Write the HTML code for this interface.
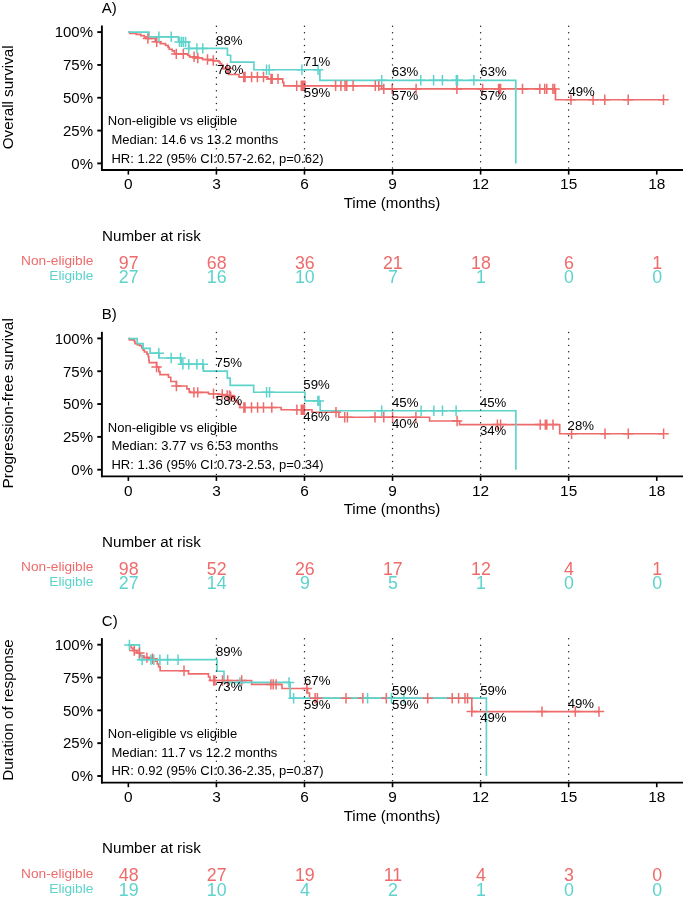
<!DOCTYPE html>
<html><head><meta charset="utf-8"><title>KM curves</title>
<style>html,body{margin:0;padding:0;background:#fff;}svg{display:block;filter:blur(0.3px);}</style>
</head><body>
<svg width="685" height="898" viewBox="0 0 685 898" font-family='"Liberation Sans", sans-serif' fill="#000">
<rect width="685" height="898" fill="#fff"/>
<g transform="translate(0,0)">
<text x="101.8" y="12.6" font-size="15">A)</text>
<text transform="translate(13.3,97.3) rotate(-90)" text-anchor="middle" font-size="15.2">Overall survival</text>
<line x1="101.9" y1="25.5" x2="101.9" y2="170.9" stroke="#000" stroke-width="1.9"/>
<line x1="101" y1="170" x2="683" y2="170" stroke="#000" stroke-width="1.8"/>
<line x1="97.3" y1="32.1" x2="102" y2="32.1" stroke="#000" stroke-width="1.9"/>
<text x="93" y="37.4" text-anchor="end" font-size="15">100%</text>
<line x1="97.3" y1="64.93" x2="102" y2="64.93" stroke="#000" stroke-width="1.9"/>
<text x="93" y="70.23" text-anchor="end" font-size="15">75%</text>
<line x1="97.3" y1="97.75" x2="102" y2="97.75" stroke="#000" stroke-width="1.9"/>
<text x="93" y="103.05" text-anchor="end" font-size="15">50%</text>
<line x1="97.3" y1="130.58" x2="102" y2="130.58" stroke="#000" stroke-width="1.9"/>
<text x="93" y="135.88" text-anchor="end" font-size="15">25%</text>
<line x1="97.3" y1="163.4" x2="102" y2="163.4" stroke="#000" stroke-width="1.9"/>
<text x="93" y="168.7" text-anchor="end" font-size="15">0%</text>
<line x1="128.35" y1="170" x2="128.35" y2="174.6" stroke="#000" stroke-width="1.6"/>
<text x="128.35" y="189.4" text-anchor="middle" font-size="15.4">0</text>
<line x1="216.41" y1="170" x2="216.41" y2="174.6" stroke="#000" stroke-width="1.6"/>
<text x="216.41" y="189.4" text-anchor="middle" font-size="15.4">3</text>
<line x1="304.48" y1="170" x2="304.48" y2="174.6" stroke="#000" stroke-width="1.6"/>
<text x="304.48" y="189.4" text-anchor="middle" font-size="15.4">6</text>
<line x1="392.54" y1="170" x2="392.54" y2="174.6" stroke="#000" stroke-width="1.6"/>
<text x="392.54" y="189.4" text-anchor="middle" font-size="15.4">9</text>
<line x1="480.61" y1="170" x2="480.61" y2="174.6" stroke="#000" stroke-width="1.6"/>
<text x="480.61" y="189.4" text-anchor="middle" font-size="15.4">12</text>
<line x1="568.67" y1="170" x2="568.67" y2="174.6" stroke="#000" stroke-width="1.6"/>
<text x="568.67" y="189.4" text-anchor="middle" font-size="15.4">15</text>
<line x1="656.74" y1="170" x2="656.74" y2="174.6" stroke="#000" stroke-width="1.6"/>
<text x="656.74" y="189.4" text-anchor="middle" font-size="15.4">18</text>
<text x="392" y="208" text-anchor="middle" font-size="15.1">Time (months)</text>
<text x="107.8" y="125.3" font-size="13" xml:space="preserve">Non-eligible vs eligible</text>
<text x="107.8" y="144.05" font-size="13" xml:space="preserve"> Median: 14.6 vs 13.2 months</text>
<text x="107.8" y="162.8" font-size="13" xml:space="preserve"> HR: 1.22 (95% CI:0.57-2.62, p=0.62)</text>
<path d="M128.35,32.1 129.8,32.1 129.8,33.3 136.2,33.3 136.2,34.4 140.8,34.4 140.8,35.6 144.3,35.6 144.3,36.8 146,36.8 146,38.5 155.3,38.5 155.3,41.7 160.2,41.7 160.2,43.6 165.5,43.6 165.5,45.4 168.1,45.4 168.1,47.3 169.3,47.3 169.3,49.2 172.2,49.2 172.2,50.9 174.5,50.9 174.5,53.9 187.9,53.9 187.9,55.3 189.7,55.3 189.7,56.8 193.2,56.8 193.2,58 202.5,58 202.5,59.5 213.3,59.5 213.3,60.9 218.9,60.9 218.9,62 220,62 220,63.5 221.5,63.5 221.5,65 223,65 223,68.6 228.5,68.6 228.5,74.5 239,74.5 239,77 267.5,77 267.5,78.9 282.7,78.9 282.7,82.4 283.8,82.4 283.8,85.8 381.7,85.8 381.7,88.9 555.5,88.9 555.5,99.7 663.5,99.7" fill="none" stroke="#EE6B6B" stroke-width="1.65" stroke-linejoin="miter"/>
<path d="M128.35,32.1 149,32.1 149,36.8 178.4,36.8 178.4,41.9 188.7,41.9 188.7,48.4 227.4,48.4 227.4,55.2 230.6,55.2 230.6,62.1 253.9,62.1 253.9,69.7 319.9,69.7 319.9,80.3 515.8,80.3 515.8,163.4" fill="none" stroke="#5DD3CB" stroke-width="1.65" stroke-linejoin="miter"/>
<path d="M147.9,33.3v10.4M142.7,38.5h10.4 M156.7,36.5v10.4M151.5,41.7h10.4 M176.3,48.7v10.4M171.1,53.9h10.4 M183.3,48.7v10.4M178.1,53.9h10.4 M194.1,51.6v10.4M188.9,56.8h10.4 M197.8,52.8v10.4M192.6,58h10.4 M207.5,54.3v10.4M202.3,59.5h10.4 M213.3,55.3v10.4M208.1,60.5h10.4 M227.3,63.4v10.4M222.1,68.6h10.4 M243.8,71.8v10.4M238.6,77h10.4 M245,71.8v10.4M239.8,77h10.4 M251.6,71.8v10.4M246.4,77h10.4 M257.4,71.8v10.4M252.2,77h10.4 M263.5,71.8v10.4M258.3,77h10.4 M271,73.7v10.4M265.8,78.9h10.4 M272.2,73.7v10.4M267,78.9h10.4 M278,73.7v10.4M272.8,78.9h10.4 M296.7,80.6v10.4M291.5,85.8h10.4 M301.3,80.6v10.4M296.1,85.8h10.4 M302.2,80.6v10.4M297,85.8h10.4 M303.1,80.6v10.4M297.9,85.8h10.4 M304,80.6v10.4M298.8,85.8h10.4 M304.9,80.6v10.4M299.7,85.8h10.4 M335.6,80.6v10.4M330.4,85.8h10.4 M340.9,80.6v10.4M335.7,85.8h10.4 M345,80.6v10.4M339.8,85.8h10.4 M346.7,80.6v10.4M341.5,85.8h10.4 M353.1,80.6v10.4M347.9,85.8h10.4 M375.3,80.6v10.4M370.1,85.8h10.4 M378.8,80.6v10.4M373.6,85.8h10.4 M383.8,83.7v10.4M378.6,88.9h10.4 M392.2,83.7v10.4M387,88.9h10.4 M416.1,83.7v10.4M410.9,88.9h10.4 M456.9,83.7v10.4M451.7,88.9h10.4 M482.6,83.7v10.4M477.4,88.9h10.4 M498.6,83.7v10.4M493.4,88.9h10.4 M499.6,83.7v10.4M494.4,88.9h10.4 M500.6,83.7v10.4M495.4,88.9h10.4 M522.5,83.7v10.4M517.3,88.9h10.4 M539.8,83.7v10.4M534.6,88.9h10.4 M544.7,83.7v10.4M539.5,88.9h10.4 M546.8,83.7v10.4M541.6,88.9h10.4 M552.9,83.7v10.4M547.7,88.9h10.4 M554.6,83.7v10.4M549.4,88.9h10.4 M571,94.5v10.4M565.8,99.7h10.4 M593.1,94.5v10.4M587.9,99.7h10.4 M604.8,94.5v10.4M599.6,99.7h10.4 M628.2,94.5v10.4M623,99.7h10.4 M663.5,94.5v10.4M658.3,99.7h10.4" fill="none" stroke="#EE6B6B" stroke-width="1.5"/>
<path d="M158.9,31.6v10.4M153.7,36.8h10.4 M171.2,31.6v10.4M166,36.8h10.4 M179.5,36.7v10.4M174.3,41.9h10.4 M181.5,36.7v10.4M176.3,41.9h10.4 M183.4,36.7v10.4M178.2,41.9h10.4 M185.6,36.7v10.4M180.4,41.9h10.4 M188.7,43.2v10.4M183.5,48.4h10.4 M196.9,43.2v10.4M191.7,48.4h10.4 M202.8,43.2v10.4M197.6,48.4h10.4 M266.5,64.5v10.4M261.3,69.7h10.4 M269.2,64.5v10.4M264,69.7h10.4 M301.9,64.5v10.4M296.7,69.7h10.4 M318.1,64.5v10.4M312.9,69.7h10.4 M381.7,75.1v10.4M376.5,80.3h10.4 M420.8,75.1v10.4M415.6,80.3h10.4 M433.6,75.1v10.4M428.4,80.3h10.4 M442.4,75.1v10.4M437.2,80.3h10.4 M456.3,75.1v10.4M451.1,80.3h10.4 M457.5,75.1v10.4M452.3,80.3h10.4 M473.9,75.1v10.4M468.7,80.3h10.4" fill="none" stroke="#5DD3CB" stroke-width="1.5"/>
<line x1="216.41" y1="26.2" x2="216.41" y2="169" stroke="#222" stroke-width="1.45" stroke-linecap="round" stroke-dasharray="0 6.45" />
<line x1="304.48" y1="26.2" x2="304.48" y2="169" stroke="#222" stroke-width="1.45" stroke-linecap="round" stroke-dasharray="0 6.45" />
<line x1="392.54" y1="26.2" x2="392.54" y2="169" stroke="#222" stroke-width="1.45" stroke-linecap="round" stroke-dasharray="0 6.45" />
<line x1="480.61" y1="26.2" x2="480.61" y2="169" stroke="#222" stroke-width="1.45" stroke-linecap="round" stroke-dasharray="0 6.45" />
<line x1="568.67" y1="26.2" x2="568.67" y2="169" stroke="#222" stroke-width="1.45" stroke-linecap="round" stroke-dasharray="0 6.45" />
<text x="216.1" y="44.6" font-size="13.2">88%</text>
<text x="217" y="74.1" font-size="13.2">78%</text>
<text x="303.8" y="66" font-size="13.2">71%</text>
<text x="303.8" y="96.6" font-size="13.2">59%</text>
<text x="391.8" y="76.2" font-size="13.2">63%</text>
<text x="391.8" y="100" font-size="13.2">57%</text>
<text x="480.3" y="76.2" font-size="13.2">63%</text>
<text x="480.3" y="100" font-size="13.2">57%</text>
<text x="568.4" y="95.8" font-size="13.2">49%</text>
<text x="102" y="240.8" font-size="15.2">Number at risk</text>
<text x="93.4" y="265.1" text-anchor="end" font-size="13.7" fill="#EE6B6B">Non-eligible</text>
<text x="93.4" y="280" text-anchor="end" font-size="13.7" fill="#5DD3CB">Eligible</text>
<text x="128.7" y="268.9" text-anchor="middle" font-size="17.8" fill="#EE6B6B">97</text>
<text x="128.7" y="283.1" text-anchor="middle" font-size="17.8" fill="#5DD3CB">27</text>
<text x="216.76" y="268.9" text-anchor="middle" font-size="17.8" fill="#EE6B6B">68</text>
<text x="216.76" y="283.1" text-anchor="middle" font-size="17.8" fill="#5DD3CB">16</text>
<text x="304.83" y="268.9" text-anchor="middle" font-size="17.8" fill="#EE6B6B">36</text>
<text x="304.83" y="283.1" text-anchor="middle" font-size="17.8" fill="#5DD3CB">10</text>
<text x="392.89" y="268.9" text-anchor="middle" font-size="17.8" fill="#EE6B6B">21</text>
<text x="392.89" y="283.1" text-anchor="middle" font-size="17.8" fill="#5DD3CB">7</text>
<text x="480.96" y="268.9" text-anchor="middle" font-size="17.8" fill="#EE6B6B">18</text>
<text x="480.96" y="283.1" text-anchor="middle" font-size="17.8" fill="#5DD3CB">1</text>
<text x="569.02" y="268.9" text-anchor="middle" font-size="17.8" fill="#EE6B6B">6</text>
<text x="569.02" y="283.1" text-anchor="middle" font-size="17.8" fill="#5DD3CB">0</text>
<text x="657.09" y="268.9" text-anchor="middle" font-size="17.8" fill="#EE6B6B">1</text>
<text x="657.09" y="283.1" text-anchor="middle" font-size="17.8" fill="#5DD3CB">0</text>
</g>
<g transform="translate(0,306.3)">
<text x="101.8" y="12.6" font-size="15">B)</text>
<text transform="translate(13.3,97) rotate(-90)" text-anchor="middle" font-size="15.4">Progression-free survival</text>
<line x1="101.9" y1="25.5" x2="101.9" y2="170.9" stroke="#000" stroke-width="1.9"/>
<line x1="101" y1="170" x2="683" y2="170" stroke="#000" stroke-width="1.8"/>
<line x1="97.3" y1="32.1" x2="102" y2="32.1" stroke="#000" stroke-width="1.9"/>
<text x="93" y="37.4" text-anchor="end" font-size="15">100%</text>
<line x1="97.3" y1="64.93" x2="102" y2="64.93" stroke="#000" stroke-width="1.9"/>
<text x="93" y="70.23" text-anchor="end" font-size="15">75%</text>
<line x1="97.3" y1="97.75" x2="102" y2="97.75" stroke="#000" stroke-width="1.9"/>
<text x="93" y="103.05" text-anchor="end" font-size="15">50%</text>
<line x1="97.3" y1="130.58" x2="102" y2="130.58" stroke="#000" stroke-width="1.9"/>
<text x="93" y="135.88" text-anchor="end" font-size="15">25%</text>
<line x1="97.3" y1="163.4" x2="102" y2="163.4" stroke="#000" stroke-width="1.9"/>
<text x="93" y="168.7" text-anchor="end" font-size="15">0%</text>
<line x1="128.35" y1="170" x2="128.35" y2="174.6" stroke="#000" stroke-width="1.6"/>
<text x="128.35" y="189.4" text-anchor="middle" font-size="15.4">0</text>
<line x1="216.41" y1="170" x2="216.41" y2="174.6" stroke="#000" stroke-width="1.6"/>
<text x="216.41" y="189.4" text-anchor="middle" font-size="15.4">3</text>
<line x1="304.48" y1="170" x2="304.48" y2="174.6" stroke="#000" stroke-width="1.6"/>
<text x="304.48" y="189.4" text-anchor="middle" font-size="15.4">6</text>
<line x1="392.54" y1="170" x2="392.54" y2="174.6" stroke="#000" stroke-width="1.6"/>
<text x="392.54" y="189.4" text-anchor="middle" font-size="15.4">9</text>
<line x1="480.61" y1="170" x2="480.61" y2="174.6" stroke="#000" stroke-width="1.6"/>
<text x="480.61" y="189.4" text-anchor="middle" font-size="15.4">12</text>
<line x1="568.67" y1="170" x2="568.67" y2="174.6" stroke="#000" stroke-width="1.6"/>
<text x="568.67" y="189.4" text-anchor="middle" font-size="15.4">15</text>
<line x1="656.74" y1="170" x2="656.74" y2="174.6" stroke="#000" stroke-width="1.6"/>
<text x="656.74" y="189.4" text-anchor="middle" font-size="15.4">18</text>
<text x="392" y="208" text-anchor="middle" font-size="15.1">Time (months)</text>
<text x="107.8" y="125.3" font-size="13" xml:space="preserve">Non-eligible vs eligible</text>
<text x="107.8" y="144.05" font-size="13" xml:space="preserve"> Median: 3.77 vs 6.53 months</text>
<text x="107.8" y="162.8" font-size="13" xml:space="preserve"> HR: 1.36 (95% CI:0.73-2.53, p=0.34)</text>
<path d="M128.35,32.3 129.5,32.3 129.5,33.6 134.3,33.6 134.3,35 135,35 135,37.3 137.4,37.3 137.4,38.6 140,38.6 140,39.5 141.8,39.5 141.8,41.7 143.1,41.7 143.1,43.9 144.4,43.9 144.4,45.7 147,45.7 147,47.8 148.3,47.8 148.3,50.5 148.8,50.5 148.8,54 149.2,54 149.2,56.3 156.6,56.3 156.6,60.7 158.8,60.7 158.8,65.3 160,65.3 160,68.3 168.5,68.3 168.5,71 170.8,71 170.8,75.2 176.4,75.2 176.4,79.7 186.9,79.7 186.9,82.6 189.2,82.6 189.2,85.3 190.5,85.3 190.5,86.1 208.5,86.1 208.5,87.4 219,87.4 219,88.2 222,88.2 222,89.2 230.7,89.2 230.7,90.3 233,90.3 233,92.2 235,92.2 235,94.2 237,94.2 237,96.2 238.5,96.2 238.5,98.2 240,98.2 240,101.2 281.1,101.2 281.1,103.5 312,103.5 312,105.9 338.9,105.9 338.9,111 429.6,111 429.6,114.7 459.6,114.7 459.6,118.3 559.7,118.3 559.7,127.4 663.6,127.4" fill="none" stroke="#EE6B6B" stroke-width="1.65" stroke-linejoin="miter"/>
<path d="M128.35,32.3 137.2,32.3 137.2,37.3 143.1,37.3 143.1,42.1 150.1,42.1 150.1,46.9 159.1,46.9 159.1,51.7 181.3,51.7 181.3,57.9 203.4,57.9 203.4,64.9 227.3,64.9 227.3,71.9 230.2,71.9 230.2,79.1 253.7,79.1 253.7,86 305,86 305,94.6 320.2,94.6 320.2,104.5 515.9,104.5 515.9,163.4" fill="none" stroke="#5DD3CB" stroke-width="1.65" stroke-linejoin="miter"/>
<path d="M156.6,55.5v10.4M151.4,60.7h10.4 M176.4,74.5v10.4M171.2,79.7h10.4 M193.9,80.9v10.4M188.7,86.1h10.4 M197.7,80.9v10.4M192.5,86.1h10.4 M213.5,82.2v10.4M208.3,87.4h10.4 M222.2,83v10.4M217,88.2h10.4 M227.2,84v10.4M222,89.2h10.4 M229.5,84v10.4M224.3,89.2h10.4 M230.7,85.1v10.4M225.5,90.3h10.4 M243.9,96v10.4M238.7,101.2h10.4 M245,96v10.4M239.8,101.2h10.4 M251.5,96v10.4M246.3,101.2h10.4 M257.6,96v10.4M252.4,101.2h10.4 M263.5,96v10.4M258.3,101.2h10.4 M271.8,96v10.4M266.6,101.2h10.4 M296.9,98.3v10.4M291.7,103.5h10.4 M301.3,98.3v10.4M296.1,103.5h10.4 M302.5,98.3v10.4M297.3,103.5h10.4 M303.7,98.3v10.4M298.5,103.5h10.4 M304.5,98.3v10.4M299.3,103.5h10.4 M336,100.7v10.4M330.8,105.9h10.4 M344.7,105.8v10.4M339.5,111h10.4 M347.4,105.8v10.4M342.2,111h10.4 M375,105.8v10.4M369.8,111h10.4 M383.8,105.8v10.4M378.6,111h10.4 M392.6,105.8v10.4M387.4,111h10.4 M415.9,105.8v10.4M410.7,111h10.4 M457.1,109.5v10.4M451.9,114.7h10.4 M497.4,113.1v10.4M492.2,118.3h10.4 M500.6,113.1v10.4M495.4,118.3h10.4 M540.2,113.1v10.4M535,118.3h10.4 M545.3,113.1v10.4M540.1,118.3h10.4 M546.8,113.1v10.4M541.6,118.3h10.4 M553,113.1v10.4M547.8,118.3h10.4 M571.6,122.2v10.4M566.4,127.4h10.4 M605,122.2v10.4M599.8,127.4h10.4 M628.3,122.2v10.4M623.1,127.4h10.4 M663.6,122.2v10.4M658.4,127.4h10.4" fill="none" stroke="#EE6B6B" stroke-width="1.5"/>
<path d="M158.8,41.7v10.4M153.6,46.9h10.4 M171.2,46.5v10.4M166,51.7h10.4 M180.5,46.5v10.4M175.3,51.7h10.4 M182.9,52.7v10.4M177.7,57.9h10.4 M188.8,52.7v10.4M183.6,57.9h10.4 M196.9,52.7v10.4M191.7,57.9h10.4 M202.8,52.7v10.4M197.6,57.9h10.4 M266.6,80.8v10.4M261.4,86h10.4 M269.6,80.8v10.4M264.4,86h10.4 M317.9,89.4v10.4M312.7,94.6h10.4 M319,89.4v10.4M313.8,94.6h10.4 M381.7,99.3v10.4M376.5,104.5h10.4 M421.1,99.3v10.4M415.9,104.5h10.4 M433.9,99.3v10.4M428.7,104.5h10.4 M442.5,99.3v10.4M437.3,104.5h10.4 M456.1,99.3v10.4M450.9,104.5h10.4" fill="none" stroke="#5DD3CB" stroke-width="1.5"/>
<line x1="216.41" y1="26.2" x2="216.41" y2="169" stroke="#222" stroke-width="1.45" stroke-linecap="round" stroke-dasharray="0 6.45" />
<line x1="304.48" y1="26.2" x2="304.48" y2="169" stroke="#222" stroke-width="1.45" stroke-linecap="round" stroke-dasharray="0 6.45" />
<line x1="392.54" y1="26.2" x2="392.54" y2="169" stroke="#222" stroke-width="1.45" stroke-linecap="round" stroke-dasharray="0 6.45" />
<line x1="480.61" y1="26.2" x2="480.61" y2="169" stroke="#222" stroke-width="1.45" stroke-linecap="round" stroke-dasharray="0 6.45" />
<line x1="568.67" y1="26.2" x2="568.67" y2="169" stroke="#222" stroke-width="1.45" stroke-linecap="round" stroke-dasharray="0 6.45" />
<text x="215.6" y="60.6" font-size="13.2">75%</text>
<text x="215.8" y="98.3" font-size="13.2">58%</text>
<text x="303.3" y="82.3" font-size="13.2">59%</text>
<text x="303.3" y="114.3" font-size="13.2">46%</text>
<text x="392" y="100.4" font-size="13.2">45%</text>
<text x="392" y="121.4" font-size="13.2">40%</text>
<text x="479.9" y="100.4" font-size="13.2">45%</text>
<text x="479.9" y="128.6" font-size="13.2">34%</text>
<text x="567.6" y="123.9" font-size="13.2">28%</text>
<text x="102" y="240.8" font-size="15.2">Number at risk</text>
<text x="93.4" y="265.1" text-anchor="end" font-size="13.7" fill="#EE6B6B">Non-eligible</text>
<text x="93.4" y="280" text-anchor="end" font-size="13.7" fill="#5DD3CB">Eligible</text>
<text x="128.7" y="268.9" text-anchor="middle" font-size="17.8" fill="#EE6B6B">98</text>
<text x="128.7" y="283.1" text-anchor="middle" font-size="17.8" fill="#5DD3CB">27</text>
<text x="216.76" y="268.9" text-anchor="middle" font-size="17.8" fill="#EE6B6B">52</text>
<text x="216.76" y="283.1" text-anchor="middle" font-size="17.8" fill="#5DD3CB">14</text>
<text x="304.83" y="268.9" text-anchor="middle" font-size="17.8" fill="#EE6B6B">26</text>
<text x="304.83" y="283.1" text-anchor="middle" font-size="17.8" fill="#5DD3CB">9</text>
<text x="392.89" y="268.9" text-anchor="middle" font-size="17.8" fill="#EE6B6B">17</text>
<text x="392.89" y="283.1" text-anchor="middle" font-size="17.8" fill="#5DD3CB">5</text>
<text x="480.96" y="268.9" text-anchor="middle" font-size="17.8" fill="#EE6B6B">12</text>
<text x="480.96" y="283.1" text-anchor="middle" font-size="17.8" fill="#5DD3CB">1</text>
<text x="569.02" y="268.9" text-anchor="middle" font-size="17.8" fill="#EE6B6B">4</text>
<text x="569.02" y="283.1" text-anchor="middle" font-size="17.8" fill="#5DD3CB">0</text>
<text x="657.09" y="268.9" text-anchor="middle" font-size="17.8" fill="#EE6B6B">1</text>
<text x="657.09" y="283.1" text-anchor="middle" font-size="17.8" fill="#5DD3CB">0</text>
</g>
<g transform="translate(0,612.6)">
<text x="101.8" y="13.4" font-size="15">C)</text>
<text transform="translate(13.3,97.45) rotate(-90)" text-anchor="middle" font-size="15.25">Duration of response</text>
<line x1="101.9" y1="25.5" x2="101.9" y2="170.9" stroke="#000" stroke-width="1.9"/>
<line x1="101" y1="170" x2="683" y2="170" stroke="#000" stroke-width="1.8"/>
<line x1="97.3" y1="32.1" x2="102" y2="32.1" stroke="#000" stroke-width="1.9"/>
<text x="93" y="37.4" text-anchor="end" font-size="15">100%</text>
<line x1="97.3" y1="64.93" x2="102" y2="64.93" stroke="#000" stroke-width="1.9"/>
<text x="93" y="70.23" text-anchor="end" font-size="15">75%</text>
<line x1="97.3" y1="97.75" x2="102" y2="97.75" stroke="#000" stroke-width="1.9"/>
<text x="93" y="103.05" text-anchor="end" font-size="15">50%</text>
<line x1="97.3" y1="130.58" x2="102" y2="130.58" stroke="#000" stroke-width="1.9"/>
<text x="93" y="135.88" text-anchor="end" font-size="15">25%</text>
<line x1="97.3" y1="163.4" x2="102" y2="163.4" stroke="#000" stroke-width="1.9"/>
<text x="93" y="168.7" text-anchor="end" font-size="15">0%</text>
<line x1="128.35" y1="170" x2="128.35" y2="174.6" stroke="#000" stroke-width="1.6"/>
<text x="128.35" y="189.4" text-anchor="middle" font-size="15.4">0</text>
<line x1="216.41" y1="170" x2="216.41" y2="174.6" stroke="#000" stroke-width="1.6"/>
<text x="216.41" y="189.4" text-anchor="middle" font-size="15.4">3</text>
<line x1="304.48" y1="170" x2="304.48" y2="174.6" stroke="#000" stroke-width="1.6"/>
<text x="304.48" y="189.4" text-anchor="middle" font-size="15.4">6</text>
<line x1="392.54" y1="170" x2="392.54" y2="174.6" stroke="#000" stroke-width="1.6"/>
<text x="392.54" y="189.4" text-anchor="middle" font-size="15.4">9</text>
<line x1="480.61" y1="170" x2="480.61" y2="174.6" stroke="#000" stroke-width="1.6"/>
<text x="480.61" y="189.4" text-anchor="middle" font-size="15.4">12</text>
<line x1="568.67" y1="170" x2="568.67" y2="174.6" stroke="#000" stroke-width="1.6"/>
<text x="568.67" y="189.4" text-anchor="middle" font-size="15.4">15</text>
<line x1="656.74" y1="170" x2="656.74" y2="174.6" stroke="#000" stroke-width="1.6"/>
<text x="656.74" y="189.4" text-anchor="middle" font-size="15.4">18</text>
<text x="392" y="208" text-anchor="middle" font-size="15.1">Time (months)</text>
<text x="107.8" y="125.3" font-size="13" xml:space="preserve">Non-eligible vs eligible</text>
<text x="107.8" y="144.05" font-size="13" xml:space="preserve"> Median: 11.7 vs 12.2 months</text>
<text x="107.8" y="162.8" font-size="13" xml:space="preserve"> HR: 0.92 (95% CI:0.36-2.35, p=0.87)</text>
<path d="M128.35,32.2 131.2,32.2 131.2,35.4 133,35.4 133,38 137,38 137,40.4 140.5,40.4 140.5,43.2 144,43.2 144,45 149,45 149,46.2 155.5,46.2 155.5,48.7 157.3,48.7 157.3,51.4 158.6,51.4 158.6,54.1 160.1,54.1 160.1,58.2 188.5,58.2 188.5,61.3 208.5,61.3 208.5,64.4 210,64.4 210,67.9 251.6,67.9 251.6,71.8 282,71.8 282,75.9 307.5,75.9 307.5,80.4 309.5,80.4 309.5,85.7 471.8,85.7 471.8,99 599,99" fill="none" stroke="#EE6B6B" stroke-width="1.65" stroke-linejoin="miter"/>
<path d="M128.35,32.3 139.5,32.3 139.5,47.1 217,47.1 217,58.7 224,58.7 224,69.8 290.1,69.8 290.1,85.6 486.4,85.6 486.4,163.4" fill="none" stroke="#5DD3CB" stroke-width="1.65" stroke-linejoin="miter"/>
<path d="M134.3,32.8v10.4M129.1,38h10.4 M139.4,35.2v10.4M134.2,40.4h10.4 M146.9,39.8v10.4M141.7,45h10.4 M152.5,41v10.4M147.3,46.2h10.4 M184,53v10.4M178.8,58.2h10.4 M213.7,62.7v10.4M208.5,67.9h10.4 M214.9,62.7v10.4M209.7,67.9h10.4 M222.5,62.7v10.4M217.3,67.9h10.4 M227.7,62.7v10.4M222.5,67.9h10.4 M241.7,62.7v10.4M236.5,67.9h10.4 M270.9,66.6v10.4M265.7,71.8h10.4 M273.2,66.6v10.4M268,71.8h10.4 M276.1,66.6v10.4M270.9,71.8h10.4 M306.9,70.7v10.4M301.7,75.9h10.4 M315.1,80.5v10.4M309.9,85.7h10.4 M317.4,80.5v10.4M312.2,85.7h10.4 M346,80.5v10.4M340.8,85.7h10.4 M362.9,80.5v10.4M357.7,85.7h10.4 M386.3,80.5v10.4M381.1,85.7h10.4 M427.7,80.5v10.4M422.5,85.7h10.4 M452.2,80.5v10.4M447,85.7h10.4 M458.6,80.5v10.4M453.4,85.7h10.4 M465,80.5v10.4M459.8,85.7h10.4 M467.6,80.5v10.4M462.4,85.7h10.4 M471.8,93.8v10.4M466.6,99h10.4 M542,93.8v10.4M536.8,99h10.4 M575.3,93.8v10.4M570.1,99h10.4 M599,93.8v10.4M593.8,99h10.4" fill="none" stroke="#EE6B6B" stroke-width="1.5"/>
<path d="M129.4,27.1v10.4M124.2,32.3h10.4 M142.1,41.9v10.4M136.9,47.1h10.4 M150.9,41.9v10.4M145.7,47.1h10.4 M153.8,41.9v10.4M148.6,47.1h10.4 M159.9,41.9v10.4M154.7,47.1h10.4 M167.6,41.9v10.4M162.4,47.1h10.4 M178.1,41.9v10.4M172.9,47.1h10.4 M239.9,64.6v10.4M234.7,69.8h10.4 M289,64.6v10.4M283.8,69.8h10.4 M293.6,80.4v10.4M288.4,85.6h10.4 M367.6,80.4v10.4M362.4,85.6h10.4 M391.5,80.4v10.4M386.3,85.6h10.4 M403.8,80.4v10.4M398.6,85.6h10.4" fill="none" stroke="#5DD3CB" stroke-width="1.5"/>
<line x1="216.41" y1="26.2" x2="216.41" y2="169" stroke="#222" stroke-width="1.45" stroke-linecap="round" stroke-dasharray="0 6.45" />
<line x1="304.48" y1="26.2" x2="304.48" y2="169" stroke="#222" stroke-width="1.45" stroke-linecap="round" stroke-dasharray="0 6.45" />
<line x1="392.54" y1="26.2" x2="392.54" y2="169" stroke="#222" stroke-width="1.45" stroke-linecap="round" stroke-dasharray="0 6.45" />
<line x1="480.61" y1="26.2" x2="480.61" y2="169" stroke="#222" stroke-width="1.45" stroke-linecap="round" stroke-dasharray="0 6.45" />
<line x1="568.67" y1="26.2" x2="568.67" y2="169" stroke="#222" stroke-width="1.45" stroke-linecap="round" stroke-dasharray="0 6.45" />
<text x="215.9" y="43.4" font-size="13.2">89%</text>
<text x="216" y="78.5" font-size="13.2">73%</text>
<text x="304" y="72.3" font-size="13.2">67%</text>
<text x="304" y="96.2" font-size="13.2">59%</text>
<text x="392.1" y="82" font-size="13.2">59%</text>
<text x="392.1" y="96.6" font-size="13.2">59%</text>
<text x="480.2" y="82" font-size="13.2">59%</text>
<text x="480.2" y="109.4" font-size="13.2">49%</text>
<text x="567.7" y="95.2" font-size="13.2">49%</text>
<text x="102" y="240.8" font-size="15.2">Number at risk</text>
<text x="93.4" y="265.1" text-anchor="end" font-size="13.7" fill="#EE6B6B">Non-eligible</text>
<text x="93.4" y="280" text-anchor="end" font-size="13.7" fill="#5DD3CB">Eligible</text>
<text x="128.7" y="268.9" text-anchor="middle" font-size="17.8" fill="#EE6B6B">48</text>
<text x="128.7" y="283.1" text-anchor="middle" font-size="17.8" fill="#5DD3CB">19</text>
<text x="216.76" y="268.9" text-anchor="middle" font-size="17.8" fill="#EE6B6B">27</text>
<text x="216.76" y="283.1" text-anchor="middle" font-size="17.8" fill="#5DD3CB">10</text>
<text x="304.83" y="268.9" text-anchor="middle" font-size="17.8" fill="#EE6B6B">19</text>
<text x="304.83" y="283.1" text-anchor="middle" font-size="17.8" fill="#5DD3CB">4</text>
<text x="392.89" y="268.9" text-anchor="middle" font-size="17.8" fill="#EE6B6B">11</text>
<text x="392.89" y="283.1" text-anchor="middle" font-size="17.8" fill="#5DD3CB">2</text>
<text x="480.96" y="268.9" text-anchor="middle" font-size="17.8" fill="#EE6B6B">4</text>
<text x="480.96" y="283.1" text-anchor="middle" font-size="17.8" fill="#5DD3CB">1</text>
<text x="569.02" y="268.9" text-anchor="middle" font-size="17.8" fill="#EE6B6B">3</text>
<text x="569.02" y="283.1" text-anchor="middle" font-size="17.8" fill="#5DD3CB">0</text>
<text x="657.09" y="268.9" text-anchor="middle" font-size="17.8" fill="#EE6B6B">0</text>
<text x="657.09" y="283.1" text-anchor="middle" font-size="17.8" fill="#5DD3CB">0</text>
</g>
</svg>
</body></html>
